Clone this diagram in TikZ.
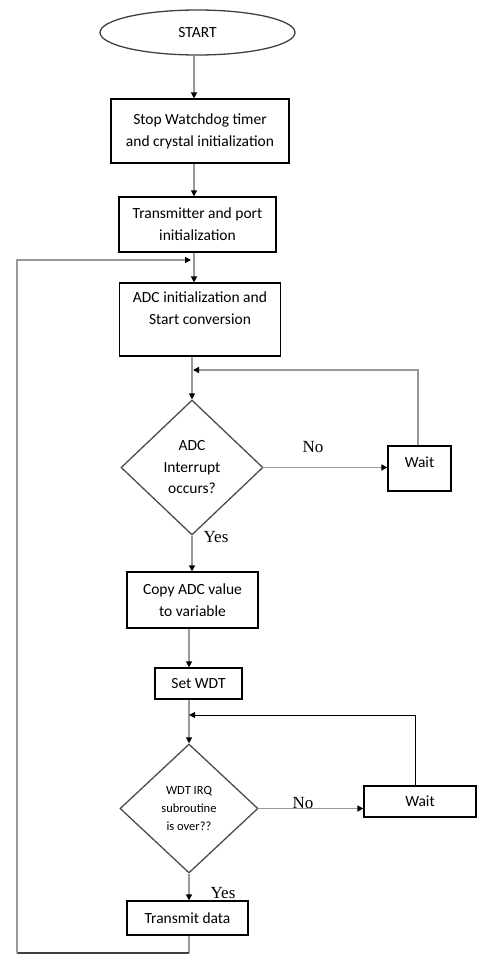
\documentclass[tikz,border=0pt]{standalone}
\usepackage{fontspec}
\setmainfont{Carlito}
\newfontfamily\tnr{Liberation Serif}
\usetikzlibrary{shapes.geometric,arrows.meta}
\begin{document}
\begin{tikzpicture}[x=1pt,y=-1pt,
  box/.style={draw=black,line width=1.3pt,rectangle,inner sep=0pt,align=center,font=\fontsize{15.5}{22}\selectfont},
  dec/.style={draw=black!70,line width=1.3pt,diamond,inner sep=0pt,align=center},
  conn/.style={draw=black!40,line width=1.6pt},
  arr/.style={conn,-{Triangle[length=6pt,width=6pt,color=black]}},
  lbl/.style={font=\tnr\fontsize{17}{20}\selectfont,inner sep=0pt}]
\useasboundingbox (0,0) rectangle (477,956);

% nodes
\node[ellipse,draw=black!75,line width=1.3pt,minimum width=195pt,minimum height=45pt,inner sep=0pt,font=\fontsize{15.5}{22}\selectfont] (start) at (197.5,32.5) {START};
\node[box,minimum width=178pt,minimum height=64pt] (stop) at (200,131) {Stop Watchdog timer\\and crystal initialization};
\node[box,minimum width=157pt,minimum height=55pt] (trans) at (197.5,224.5) {Transmitter and port\\initialization};
\node[box,minimum width=161pt,minimum height=73pt] (adc) at (200,319.5) {ADC initialization and\\Start conversion\\\mbox{}};
\node[dec,minimum width=142pt,minimum height=135pt,font=\fontsize{15.5}{21.5}\selectfont] (d1) at (192,467.5) {ADC\\Interrupt\\occurs?};
\node[box,minimum width=63pt,minimum height=45pt] (w1) at (419.5,468.5) {\raisebox{13pt}{Wait}};
\node[box,minimum width=131pt,minimum height=56pt] (copy) at (192.5,600) {Copy ADC value\\to variable};
\node[box,minimum width=87pt,minimum height=31pt] (set) at (198.5,683.5) {Set WDT};
\node[dec,minimum width=138pt,minimum height=129pt,font=\fontsize{12.5}{18}\selectfont] (d2) at (189,808.5) {WDT IRQ\\subroutine\\is over??};
\node[box,minimum width=112pt,minimum height=31pt] (w2) at (420,801.5) {Wait};
\node[box,minimum width=121pt,minimum height=34pt] (tx) at (187.5,918) {Transmit data};

% labels
\node[lbl] (no1) at (313,447) {No};
\node[lbl] (yes1) at (216,537) {Yes};
\node[lbl] (no2) at (303,803) {No};
\node[lbl] (yes2) at (223,893) {Yes};

% helper coordinates
\coordinate (xa) at (194,0);
\coordinate (xb) at (189,0);
\coordinate (j1) at (193,370);
\coordinate (j2) at (189,715);
\coordinate (fb1) at (17,953);
\coordinate (fb2) at (17,260);

% connectors
\draw[arr] (xa |- start.south) -- (xa |- stop.north);
\draw[arr] (xa |- stop.south) -- (xa |- trans.north);
\draw[arr] (xa |- trans.south) -- (xa |- adc.north);
\draw[arr] (d1.north |- adc.south) -- (d1.north);
\draw[arr] ([xshift=-1.5pt]w1.north) |- (j1);
\draw[arr] (d1.east) -- (d1.east -| w1.west);
\draw[arr] (d1.south) -- (d1.south |- copy.north);
\draw[arr] (xb |- copy.south) -- (xb |- set.north);
\draw[arr] (d2.north |- set.south) -- (d2.north);
\draw[arr,draw=black,line width=1pt] ([xshift=-5pt]w2.north) |- (j2);
\draw[arr] (d2.east) -- (d2.east -| w2.west);
\draw[arr] (d2.south) -- (d2.south |- tx.north);
\draw[conn] (d2.south |- tx.south) -- (d2.south |- fb1);
\draw[conn,draw=black!75] (d2.south |- fb1) -- (fb1);
\draw[arr] (fb1) -- (fb2) -- ([xshift=-3pt]xa |- fb2);
\end{tikzpicture}
\end{document}
